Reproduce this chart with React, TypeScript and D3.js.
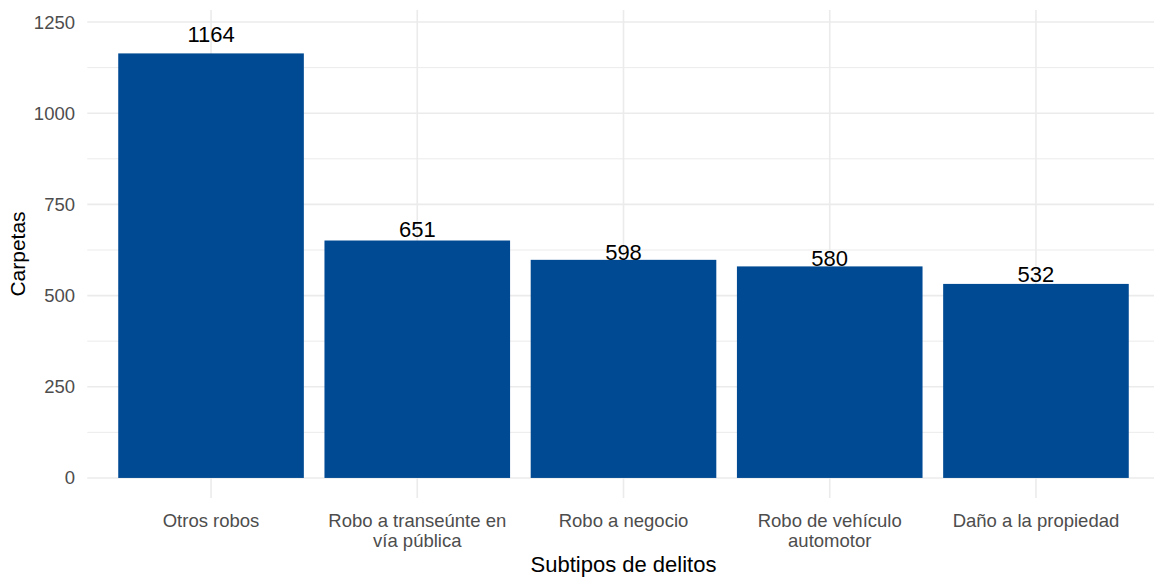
import React from 'react';
import * as d3 from 'd3';

// Carpetas por subtipo de delito
const categories = [
  'Otros robos',
  'Robo a transeúnte en vía pública',
  'Robo a negocio',
  'Robo de vehículo automotor',
  'Daño a la propiedad',
];
const tickLines = [
  ['Otros robos'],
  ['Robo a transeúnte en', 'vía pública'],
  ['Robo a negocio'],
  ['Robo de vehículo', 'automotor'],
  ['Daño a la propiedad'],
];
const values = [1164, 651, 598, 580, 532];
// where the value labels sit (data units)
const labelAt = [1194, 660, 598, 580, 537];
const yTicks = [0, 250, 500, 750, 1000, 1250];
const yMinor = [125, 375, 625, 875, 1125];

const W = 1154;
const H = 578;
const panel = { left: 87.3, right: 1159.7, top: 10, bottom: 498 };
const BAR = '#004a93';
const FONT = '"Liberation Sans", Arial, sans-serif';

export default function App() {
  const x = d3.scaleBand<string>()
    .domain(categories)
    .range([panel.left, panel.right])
    .paddingInner(0.1)
    .paddingOuter(0.15);

  const y = d3.scaleLinear()
    .domain([-55, 1283])
    .range([panel.bottom, panel.top]);

  return (
    <svg
      width={W}
      height={H}
      style={{ position: 'absolute', left: 0, top: 0, background: '#fff' }}
      fontFamily={FONT}
    >
      {/* minor grid */}
      {yMinor.map(v => (
        <line key={'mn' + v} x1={panel.left} x2={panel.right} y1={y(v)} y2={y(v)}
          stroke="#ebebeb" strokeWidth={1} />
      ))}
      {/* major grid */}
      {yTicks.map(v => (
        <line key={'mj' + v} x1={panel.left} x2={panel.right} y1={y(v)} y2={y(v)}
          stroke="#ebebeb" strokeWidth={1.6} />
      ))}
      {categories.map(c => {
        const cx = (x(c) ?? 0) + x.bandwidth() / 2;
        return (
          <line key={'vx' + c} x1={cx} x2={cx} y1={panel.top} y2={panel.bottom}
            stroke="#ebebeb" strokeWidth={1.6} />
        );
      })}

      {/* bars */}
      {categories.map((c, i) => (
        <rect key={'b' + c} x={x(c)} width={x.bandwidth()}
          y={y(values[i])} height={y(0) - y(values[i])} fill={BAR} />
      ))}

      {/* value labels */}
      {categories.map((c, i) => (
        <text key={'l' + c} x={(x(c) ?? 0) + x.bandwidth() / 2} y={y(labelAt[i])}
          textAnchor="middle" fontSize={22} fill="#000">
          {values[i]}
        </text>
      ))}

      {/* y tick labels */}
      {yTicks.map(v => (
        <text key={'yt' + v} x={75} y={y(v)} dy="0.35em" textAnchor="end"
          fontSize={18.5} fill="#4d4d4d">
          {v}
        </text>
      ))}

      {/* x tick labels */}
      {categories.map((c, i) => (
        <text key={'xt' + c} x={(x(c) ?? 0) + x.bandwidth() / 2} y={527}
          textAnchor="middle" fontSize={18.5} fill="#4d4d4d">
          {tickLines[i].map((ln, j) => (
            <tspan key={j} x={(x(c) ?? 0) + x.bandwidth() / 2} dy={j === 0 ? 0 : 19.5}>{ln}</tspan>
          ))}
        </text>
      ))}

      {/* axis titles */}
      <text x={(panel.left + panel.right) / 2} y={572} textAnchor="middle" fontSize={22} fill="#000">
        Subtipos de delitos
      </text>
      <text transform={`translate(25,${(panel.top + panel.bottom) / 2}) rotate(-90)`}
        textAnchor="middle" fontSize={21} fill="#000">
        Carpetas
      </text>
    </svg>
  );
}
